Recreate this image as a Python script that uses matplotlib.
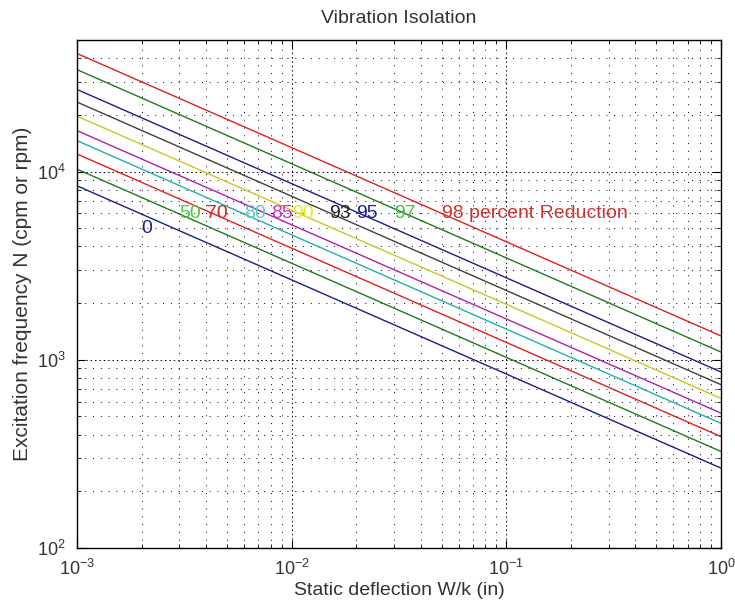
import matplotlib
matplotlib.use("Agg")
import matplotlib.pyplot as plt
from matplotlib.ticker import LogLocator, FixedLocator, NullFormatter

plt.rcParams['font.family'] = ['Liberation Sans', 'DejaVu Sans']

# Data: each line is straight on log-log axes
x_ends = [1e-3, 1.0]
percent = [0, 50, 70, 80, 85, 90, 93, 95, 97, 98]
n_left = [8400, 10300, 12400, 14600, 16500, 19700, 23400, 27300, 34800, 42400]
n_right = [266, 326, 391, 460, 521, 624, 738, 862, 1100, 1340]
line_colors = ['#1c1c8c', '#1e7a1e', '#e02020', '#20b0b0', '#b020b0',
               '#c8c820', '#404040', '#1c1c8c', '#1e7a1e', '#e02020']

label_text = ['0', '50', '70', '80', '85', '90', '93', '95', '97', '98 percent Reduction']
label_x = [0.002, 0.003, 0.004, 0.006, 0.008, 0.01, 0.015, 0.02, 0.03, 0.05]
label_y = [5000, 6000, 6000, 6000, 6000, 6000, 6000, 6000, 6000, 6000]
label_colors = ['#1c1c9c', '#44cc44', '#dd2222', '#55cccc', '#cc33cc',
                '#e6e633', '#202020', '#1c1c9c', '#44bb44', '#cc3333']

fig = plt.figure(figsize=(7.35, 6.10), dpi=100)
ax = fig.add_axes([0.1048, 0.1016, 0.876, 0.8328])

for i in range(len(percent)):
    ax.plot(x_ends, [n_left[i], n_right[i]], color=line_colors[i], lw=1.0)

for t, x, y, c in zip(label_text, label_x, label_y, label_colors):
    ax.text(x, y, t, color=c, fontsize=14, ha='left', va='center')

ax.set_xscale('log')
ax.set_yscale('log')
ax.set_xlim(1e-3, 1)
ax.set_ylim(100, 5e4)

ax.xaxis.set_major_locator(FixedLocator([1e-3, 1e-2, 1e-1, 1]))
ax.yaxis.set_major_locator(FixedLocator([1e2, 1e3, 1e4]))
ax.set_xticklabels([r'$\mathregular{10^{-3}}$', r'$\mathregular{10^{-2}}$',
                    r'$\mathregular{10^{-1}}$', r'$\mathregular{10^{0}}$'])
ax.set_yticklabels([r'$\mathregular{10^{2}}$', r'$\mathregular{10^{3}}$',
                    r'$\mathregular{10^{4}}$'])
ax.xaxis.set_minor_locator(LogLocator(base=10, subs=range(2, 10), numticks=20))
ax.yaxis.set_minor_locator(LogLocator(base=10, subs=range(2, 10), numticks=20))
ax.xaxis.set_minor_formatter(NullFormatter())
ax.yaxis.set_minor_formatter(NullFormatter())

ax.grid(True, which='major', color='black', lw=0.7, linestyle=(0, (1.5, 3)))
ax.grid(True, which='minor', color='black', lw=0.7, linestyle=(0, (1, 7)))

ax.tick_params(which='both', direction='in', top=True, right=True, labelsize=13,
               color='black', labelcolor='#333333')
ax.tick_params(which='major', length=6, pad=8)
ax.tick_params(which='minor', length=3)
for s in ax.spines.values():
    s.set_linewidth(1.0)

ax.set_title('Vibration Isolation', fontsize=14, pad=12, color='#333333')
ax.set_xlabel('Static deflection W/k (in)', fontsize=14, labelpad=2, color='#333333')
ax.set_ylabel('Excitation frequency N (cpm or rpm)', fontsize=15, labelpad=4,
              color='#333333')

fig.savefig('out.png', dpi=100, facecolor='white')
